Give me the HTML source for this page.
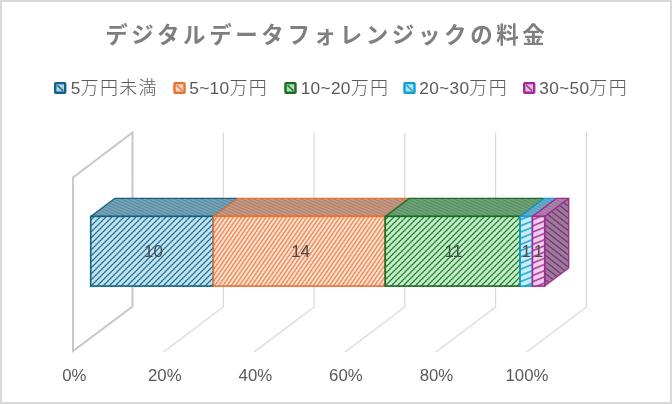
<!DOCTYPE html>
<html lang="ja"><head><meta charset="utf-8"><title>デジタルデータフォレンジックの料金</title>
<style>
html,body{margin:0;padding:0;background:#fff;}
body{width:672px;height:404px;overflow:hidden;position:relative;}
svg{position:absolute;left:0;top:0;display:block;}
.frame{position:absolute;left:0;top:0;width:668px;height:400px;border:2px solid #D9D9D9;}
text{font-family:"Liberation Sans","Noto Sans CJK JP",sans-serif;}
.ax{font-size:16.8px;}
.dl{font-size:17px;}
.lg{font-size:17.3px;letter-spacing:0.3px;}
.lg .cj{font-size:18px;font-weight:300;letter-spacing:1.3px;}
.tt{font-size:22.5px;font-weight:700;letter-spacing:3.6px;}
</style></head><body>
<div class="frame"></div>
<svg width="672" height="404" viewBox="0 0 672 404">
<defs>
<pattern id="p0" width="6" height="6" patternUnits="userSpaceOnUse" shape-rendering="crispEdges"><rect width="6" height="6" fill="#C1E5F5"/><rect x="3" y="0" width="1" height="1" fill="#87B8CE"/><rect x="4" y="0" width="1" height="1" fill="#156082"/><rect x="5" y="0" width="1" height="1" fill="#87B8CE"/><rect x="2" y="1" width="1" height="1" fill="#6BA2BC"/><rect x="3" y="1" width="1" height="1" fill="#347897"/><rect x="4" y="1" width="1" height="1" fill="#94C2D7"/><rect x="1" y="2" width="1" height="1" fill="#94C2D7"/><rect x="2" y="2" width="1" height="1" fill="#347897"/><rect x="3" y="2" width="1" height="1" fill="#6BA2BC"/><rect x="0" y="3" width="1" height="1" fill="#87B8CE"/><rect x="1" y="3" width="1" height="1" fill="#156082"/><rect x="2" y="3" width="1" height="1" fill="#87B8CE"/><rect x="5" y="4" width="1" height="1" fill="#6BA2BC"/><rect x="0" y="4" width="1" height="1" fill="#347897"/><rect x="1" y="4" width="1" height="1" fill="#94C2D7"/><rect x="4" y="5" width="1" height="1" fill="#94C2D7"/><rect x="5" y="5" width="1" height="1" fill="#347897"/><rect x="0" y="5" width="1" height="1" fill="#6BA2BC"/></pattern>
<pattern id="p1" width="4.1" height="6" patternUnits="userSpaceOnUse" patternTransform="matrix(1 0 -0.69 1 0 0)"><rect width="4.1" height="6" fill="#FBE3D6"/><rect x="0.9" width="2.0" height="6" fill="#E97132" opacity="0.45"/><rect x="1.35" width="1.1" height="6" fill="#E97132" opacity="0.75"/></pattern>
<pattern id="p2" width="6" height="6" patternUnits="userSpaceOnUse" shape-rendering="crispEdges"><rect width="6" height="6" fill="#C2F1C8"/><rect x="3" y="0" width="1" height="1" fill="#89C390"/><rect x="4" y="0" width="1" height="1" fill="#196B24"/><rect x="5" y="0" width="1" height="1" fill="#89C390"/><rect x="2" y="1" width="1" height="1" fill="#6EAE76"/><rect x="3" y="1" width="1" height="1" fill="#378342"/><rect x="4" y="1" width="1" height="1" fill="#96CE9D"/><rect x="1" y="2" width="1" height="1" fill="#96CE9D"/><rect x="2" y="2" width="1" height="1" fill="#378342"/><rect x="3" y="2" width="1" height="1" fill="#6EAE76"/><rect x="0" y="3" width="1" height="1" fill="#89C390"/><rect x="1" y="3" width="1" height="1" fill="#196B24"/><rect x="2" y="3" width="1" height="1" fill="#89C390"/><rect x="5" y="4" width="1" height="1" fill="#6EAE76"/><rect x="0" y="4" width="1" height="1" fill="#378342"/><rect x="1" y="4" width="1" height="1" fill="#96CE9D"/><rect x="4" y="5" width="1" height="1" fill="#96CE9D"/><rect x="5" y="5" width="1" height="1" fill="#378342"/><rect x="0" y="5" width="1" height="1" fill="#6EAE76"/></pattern>
<pattern id="p3" width="12" height="6.2" patternUnits="userSpaceOnUse" patternTransform="matrix(1 -0.41 0 1 520.2 0)"><rect width="12" height="6.2" fill="#CAEEFB"/><rect y="2" width="12" height="1.7" fill="#0F9ED5" opacity="0.9"/></pattern>
<pattern id="p4" width="12" height="6.2" patternUnits="userSpaceOnUse" patternTransform="matrix(1 -0.41 0 1 532.4 0)"><rect width="12" height="6.2" fill="#F2CFEE"/><rect y="2" width="12" height="1.7" fill="#A02B93" opacity="0.9"/></pattern>
<pattern id="t0" width="12" height="3" patternUnits="userSpaceOnUse" patternTransform="matrix(1 0.45 0 1 0 0)"><rect width="12" height="3" fill="#76A3B7"/><rect y="0" width="12" height="1.1" fill="#3F7590" opacity="0.55"/></pattern>
<pattern id="t1" width="12" height="3" patternUnits="userSpaceOnUse" patternTransform="matrix(1 0.45 0 1 0 0)"><rect width="12" height="3" fill="#C49A86"/><rect y="0" width="12" height="1.1" fill="#A06A50" opacity="0.55"/></pattern>
<pattern id="t2" width="12" height="3" patternUnits="userSpaceOnUse" patternTransform="matrix(1 0.45 0 1 0 0)"><rect width="12" height="3" fill="#70A379"/><rect y="0" width="12" height="1.1" fill="#3F7A4C" opacity="0.55"/></pattern>
<pattern id="t3" width="12" height="3" patternUnits="userSpaceOnUse" patternTransform="matrix(1 0.45 0 1 0 0)"><rect width="12" height="3" fill="#6CACC6"/><rect y="0" width="12" height="1.1" fill="#3C8CB0" opacity="0.55"/></pattern>
<pattern id="t4" width="12" height="3" patternUnits="userSpaceOnUse" patternTransform="matrix(1 0.45 0 1 0 0)"><rect width="12" height="3" fill="#AE86AC"/><rect y="0" width="12" height="1.1" fill="#8E5A8C" opacity="0.55"/></pattern>
<pattern id="sd" width="12" height="6.1" patternUnits="userSpaceOnUse" patternTransform="matrix(1 0.78 0 1 0 0)"><rect width="12" height="6.1" fill="#9A7C98"/><rect y="0" width="12" height="1.5" fill="#7A2C78"/></pattern>
</defs>
<path d="M223.3,132.5 V307 L163.5,351.9" fill="none" stroke="#D9D9D9" stroke-width="1.2"/>
<path d="M314.1,132.5 V307 L254.3,351.9" fill="none" stroke="#D9D9D9" stroke-width="1.2"/>
<path d="M404.8,132.5 V307 L345.0,351.9" fill="none" stroke="#D9D9D9" stroke-width="1.2"/>
<path d="M495.6,132.5 V307 L435.8,351.9" fill="none" stroke="#D9D9D9" stroke-width="1.2"/>
<path d="M586.4,132.5 V307 L526.6,351.9" fill="none" stroke="#D9D9D9" stroke-width="1.2"/>
<path d="M73,177.5 L132.5,132.5 V306.5 L73,351 Z" fill="none" stroke="#C6C6C6" stroke-width="1.9" stroke-linejoin="miter"/>
<path d="M90.70,216.4 L114.70,198.40 L237.40,198.40 L213.40,216.4 Z" fill="url(#t0)" stroke="#156082" stroke-width="1.3" stroke-linejoin="round"/>
<path d="M213.40,216.4 L237.40,198.40 L409.19,198.40 L385.19,216.4 Z" fill="url(#t1)" stroke="#E97132" stroke-width="1.3" stroke-linejoin="round"/>
<path d="M385.19,216.4 L409.19,198.40 L544.16,198.40 L520.16,216.4 Z" fill="url(#t2)" stroke="#196B24" stroke-width="1.3" stroke-linejoin="round"/>
<path d="M520.16,216.4 L544.16,198.40 L556.43,198.40 L532.43,216.4 Z" fill="url(#t3)" stroke="#0F9ED5" stroke-width="1.3" stroke-linejoin="round"/>
<path d="M532.43,216.4 L556.43,198.40 L568.70,198.40 L544.70,216.4 Z" fill="url(#t4)" stroke="#A02B93" stroke-width="1.3" stroke-linejoin="round"/>
<rect x="90.70" y="216.4" width="122.70" height="69.70" fill="url(#p0)" stroke="#156082" stroke-width="1.6"/>
<rect x="213.40" y="216.4" width="171.78" height="69.70" fill="url(#p1)" stroke="#E97132" stroke-width="1.6"/>
<rect x="385.19" y="216.4" width="134.97" height="69.70" fill="url(#p2)" stroke="#196B24" stroke-width="1.6"/>
<rect x="520.16" y="216.4" width="12.27" height="69.70" fill="url(#p3)" stroke="#0F9ED5" stroke-width="1.6"/>
<path d="M544.70,216.4 L568.70,198.40 V268.10 L544.70,286.1 Z" fill="url(#sd)" stroke="#A02B93" stroke-width="1.3" stroke-linejoin="round"/>
<rect x="532.43" y="216.4" width="12.27" height="69.70" fill="url(#p4)" stroke="#A02B93" stroke-width="1.6"/>
<text x="153.5" y="257.1" text-anchor="middle" class="dl" fill="#4A4A4A">10</text>
<text x="300.6" y="257.1" text-anchor="middle" class="dl" fill="#4A4A4A">14</text>
<text x="453.3" y="257.1" text-anchor="middle" class="dl" fill="#4A4A4A">11</text>
<text x="526.2" y="257.1" text-anchor="middle" class="dl" fill="#4A4A4A">1</text>
<text x="538.6" y="257.1" text-anchor="middle" class="dl" fill="#4A4A4A">1</text>
<text x="74.3" y="381.3" text-anchor="middle" class="ax" fill="#595959">0%</text>
<text x="164.8" y="381.3" text-anchor="middle" class="ax" fill="#595959">20%</text>
<text x="255.4" y="381.3" text-anchor="middle" class="ax" fill="#595959">40%</text>
<text x="345.9" y="381.3" text-anchor="middle" class="ax" fill="#595959">60%</text>
<text x="436.5" y="381.3" text-anchor="middle" class="ax" fill="#595959">80%</text>
<text x="527.0" y="381.3" text-anchor="middle" class="ax" fill="#595959">100%</text>
<rect x="55.2" y="83.1" width="10" height="9.7" rx="0.6" fill="#ACD5E7" stroke="#156082" stroke-width="2.4"/>
<path d="M57.2,85.2 l6,5.6" stroke="#156082" stroke-width="1.7" opacity="0.85"/>
<text x="70.7" y="93.9" class="lg" fill="#595959"><tspan class="la">5</tspan><tspan class="cj">万円未満</tspan></text>
<rect x="174.5" y="83.1" width="10" height="9.7" rx="0.6" fill="#F9D5C2" stroke="#E97132" stroke-width="2.4"/>
<path d="M176.5,85.2 l6,5.6" stroke="#E97132" stroke-width="1.7" opacity="0.85"/>
<text x="189.3" y="93.9" class="lg" fill="#595959"><tspan class="la">5~10</tspan><tspan class="cj">万円</tspan></text>
<rect x="285.5" y="83.1" width="10" height="9.7" rx="0.6" fill="#AEE1B4" stroke="#196B24" stroke-width="2.4"/>
<path d="M287.5,85.2 l6,5.6" stroke="#196B24" stroke-width="1.7" opacity="0.85"/>
<text x="300.7" y="93.9" class="lg" fill="#595959"><tspan class="la">10~20</tspan><tspan class="cj">万円</tspan></text>
<rect x="404.5" y="83.1" width="10" height="9.7" rx="0.6" fill="#B4E4F6" stroke="#0F9ED5" stroke-width="2.4"/>
<path d="M406.5,85.2 l6,5.6" stroke="#0F9ED5" stroke-width="1.7" opacity="0.85"/>
<text x="419.3" y="93.9" class="lg" fill="#595959"><tspan class="la">20~30</tspan><tspan class="cj">万円</tspan></text>
<rect x="524.2" y="83.1" width="10" height="9.7" rx="0.6" fill="#E8BBE3" stroke="#A02B93" stroke-width="2.4"/>
<path d="M526.2,85.2 l6,5.6" stroke="#A02B93" stroke-width="1.7" opacity="0.85"/>
<text x="539.3" y="93.9" class="lg" fill="#595959"><tspan class="la">30~50</tspan><tspan class="cj">万円</tspan></text>
<text x="105.2" y="42.7" class="tt" fill="#7F7F7F">デジタルデータフォレンジックの料金</text>
</svg>
</body></html>
